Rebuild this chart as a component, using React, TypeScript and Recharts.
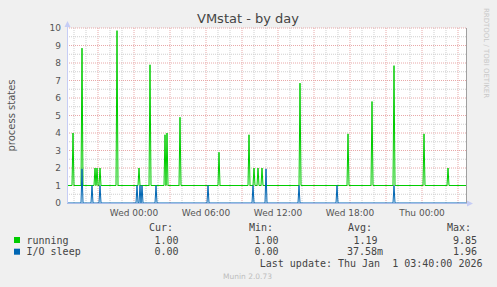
import React from 'react';
import { LineChart, Line, XAxis, YAxis, ReferenceLine } from 'recharts';

// times are minutes relative to Wed 00:00, one sample every 5 minutes
const xTicks = [0, 360, 720, 1080, 1440];
const xTickLabels = ['Wed 00:00', 'Wed 06:00', 'Wed 12:00', 'Wed 18:00', 'Thu 00:00'];
const yTicks = [0, 1, 2, 3, 4, 5, 6, 7, 8, 9, 10];

const runningBase = 1;
const runningSpikeTimes = [-305, -260, -195, -185, -170, -85, 25, 80, 155, 165, 230, 425, 575, 600, 620, 640, 830, 1070, 1190, 1300, 1450, 1570];
const runningSpikeValues = [4.0, 8.85, 2.0, 2.0, 2.0, 9.85, 2.0, 7.9, 3.9, 4.0, 4.9, 2.9, 3.9, 2.0, 2.0, 2.0, 6.85, 3.95, 5.8, 7.85, 3.95, 2.0];

const ioBase = 0;
const ioSpikeTimes = [-260, -210, -170, 15, 30, 40, 110, 370, 595, 660, 825, 1015, 1300];
const ioSpikeValues = [1.95, 1, 1, 1, 1, 1, 1, 1, 1, 1.95, 1, 1, 1];

const legendNames = ['running', 'I/O sleep'];
const legendColors = ['#00cc00', '#0066b3'];
const legendCur = ['1.00', '0.00'];
const legendMin = ['1.00', '0.00'];
const legendAvg = ['1.19', '37.58m'];
const legendMax = ['9.85', '1.96'];
const lastUpdate = 'Last update: Thu Jan  1 03:40:00 2026';

const X_MIN = -335;
const X_MAX = 1665;

const buildSeries = (times: number[], values: number[], base: number) => {
  const pts: { t: number; v: number }[] = [{ t: X_MIN, v: base }, { t: X_MAX, v: base }];
  times.forEach((t, i) => {
    pts.push({ t: t - 5, v: base }, { t, v: values[i] }, { t: t + 5, v: base });
  });
  return pts.sort((a, b) => a.t - b.t);
};

const runningData = buildSeries(runningSpikeTimes, runningSpikeValues, runningBase);
const ioData = buildSeries(ioSpikeTimes, ioSpikeValues, ioBase);

const hourLines: number[] = [];
for (let m = -300; m <= 1620; m += 60) hourLines.push(m);
const halfLines: number[] = [];
for (let v = 0.5; v <= 10; v += 0.5) halfLines.push(v);

const FONT = '"DejaVu Sans", sans-serif';
const MONO = '"DejaVu Sans Mono", monospace';

export default function App() {
  return (
    <div style={{ position: 'absolute', left: 0, top: 0, width: 497, height: 287, background: '#f0f0f0' }}>
      <div style={{ position: 'absolute', left: 67, top: 28, width: 400, height: 175, background: '#ffffff' }} />
      <div style={{ position: 'absolute', left: 0, top: 0 }}>
        <LineChart width={497} height={287} margin={{ top: 28, right: 30, bottom: 54, left: 0 }}>
          {hourLines.map((m) => (
            <ReferenceLine
              key={`h${m}`}
              x={m}
              stroke={m % 180 === 0 ? '#e8a8a8' : '#cfcfcf'}
              strokeDasharray="1 1"
            />
          ))}
          {halfLines.map((v) => (
            <ReferenceLine
              key={`v${v}`}
              y={v}
              stroke={Number.isInteger(v) ? '#e8a8a8' : '#cfcfcf'}
              strokeDasharray="1 1"
            />
          ))}
          <XAxis
            dataKey="t"
            type="number"
            domain={[X_MIN, X_MAX]}
            ticks={xTicks}
            tickFormatter={(v) => xTickLabels[xTicks.indexOf(v)]}
            axisLine={false}
            tickLine={false}
            tickSize={0}
            tickMargin={7}
            height={30}
            tick={{ fontSize: 9, fill: '#555', fontFamily: FONT }}
          />
          <YAxis
            type="number"
            domain={[0, 10]}
            ticks={yTicks}
            width={67}
            axisLine={false}
            tickLine={false}
            tickSize={0}
            tickMargin={6}
            tick={{ fontSize: 9, fill: '#555', fontFamily: FONT }}
          />
          <Line data={runningData} dataKey="v" type="linear" stroke="#00cc00" strokeWidth={1} dot={false} isAnimationActive={false} />
          <Line data={ioData} dataKey="v" type="linear" stroke="#0066b3" strokeWidth={1} dot={false} isAnimationActive={false} />
        </LineChart>
      </div>
      <svg width={497} height={287} style={{ position: 'absolute', left: 0, top: 0, pointerEvents: 'none' }}>
        <text x={248} y={23} textAnchor="middle" fontSize={13} fill="#444" fontFamily={FONT}>VMstat - by day</text>
        <text x={15} y={115.5} transform="rotate(-90 15 115.5)" textAnchor="middle" fontSize={10} fill="#555" fontFamily={FONT}>process states</text>
        <text x={484} y={53} transform="rotate(90 484 53)" textAnchor="middle" fontSize={7} fill="#c8c8c8" fontFamily={FONT}>RRDTOOL / TOBI OETIKER</text>
        {/* axes */}
        <line x1={67.5} y1={24} x2={67.5} y2={203} stroke="#c6cdf5" strokeWidth={1} />
        <path d="M 64.5 27 L 67.5 21 L 70.5 27 Z" fill="#c6cdf5" />
        <line x1={67} y1={203.5} x2={470} y2={203.5} stroke="#a9bce8" strokeWidth={1} />
        <path d="M 467 200.5 L 473 203.5 L 467 206.5 Z" fill="#c6cdf5" />
        <line x1={466.5} y1={28} x2={466.5} y2={203} stroke="#a0a0a0" strokeWidth={1} />
        {/* legend */}
        <g fontFamily={MONO} fontSize={10} fill="#444">
          <text x={149} y={231}>Cur:</text>
          <text x={249} y={231}>Min:</text>
          <text x={348} y={231}>Avg:</text>
          <text x={447} y={231}>Max:</text>
          {legendNames.map((name, i) => {
            const y = 243.5 + i * 11.7;
            return (
              <g key={name}>
                <rect x={14} y={y - 6.5} width={6} height={6} fill={legendColors[i]} />
                <text x={26.5} y={y}>{name}</text>
                <text x={178.5} y={y} textAnchor="end">{legendCur[i]}</text>
                <text x={278.5} y={y} textAnchor="end">{legendMin[i]}</text>
                <text x={legendAvg[i].endsWith('m') ? 383 : 377.5} y={y} textAnchor="end">{legendAvg[i]}</text>
                <text x={477} y={y} textAnchor="end">{legendMax[i]}</text>
              </g>
            );
          })}
          <text x={482.5} y={267} textAnchor="end" xmlSpace="preserve" style={{ whiteSpace: 'pre' }}>{lastUpdate}</text>
        </g>
        <text x={247.5} y={279} textAnchor="middle" fontSize={7.5} fill="#bdbdbd" fontFamily={FONT}>Munin 2.0.73</text>
      </svg>
    </div>
  );
}
